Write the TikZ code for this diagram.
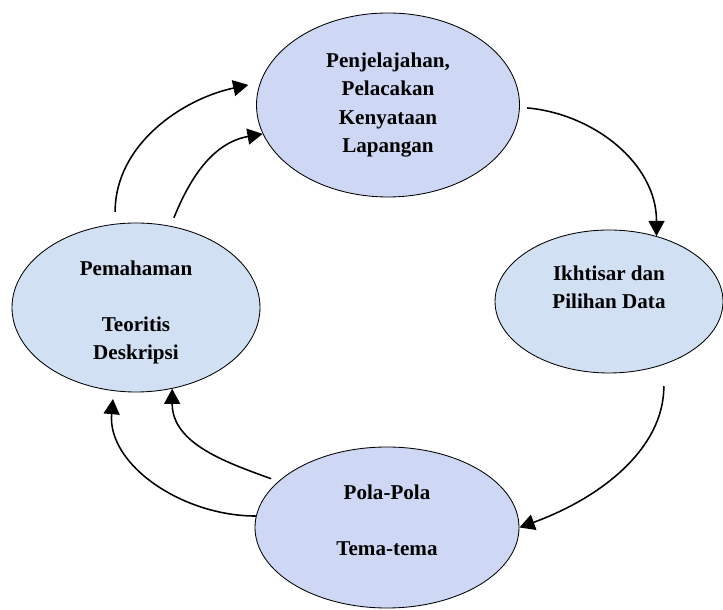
\documentclass[tikz,border=0pt]{standalone}
\usepackage{fontspec}
\setmainfont{Liberation Serif}
\usetikzlibrary{shapes.geometric}
\usetikzlibrary{arrows.meta}

\definecolor{mistblue}{RGB}{206,216,244}
\definecolor{paleblue}{RGB}{210,224,244}

\tikzset{
  cycle/.style={ellipse, draw, semithick, inner sep=0pt, align=center,
    font=\fontsize{15}{20}\selectfont\bfseries},
}

\begin{document}
\begin{tikzpicture}[>={Triangle[length=0.38cm,width=0.4cm]}, line width=1.1pt]
      \useasboundingbox (0,0) rectangle (18.075,15.25);

      \node [cycle] at (9.7, 12.625)
      [minimum width=6.575cm, minimum height=4.6cm, name=jelajah, fill=mistblue]
      {Penjelajahan,\\Pelacakan\\Kenyataan\\Lapangan};

      \node [cycle] at (15.225, 7.7125)
      [minimum width=5.7cm, minimum height=3.575cm, name=ikhtisar, fill=paleblue]
      {Ikhtisar dan\\Pilihan Data\\~};

      \node [cycle] at (9.675, 2.0625)
      [minimum width=6.6cm, minimum height=4.025cm, name=pola, fill=mistblue]
      {Pola-Pola\\[20pt]Tema-tema\\[-10pt]~};

      \node [cycle] at (3.4, 7.5625)
      [minimum width=6.2cm, minimum height=4.225cm, name=paham, fill=paleblue]
      {~\\[-3pt]Pemahaman\\[20pt]Teoritis\\Deskripsi};

      % clockwise cycle
      \draw [->, shorten <=0.18cm] (jelajah.-1) to[out=-5, in=90] (ikhtisar.54);
      \draw [->, shorten <=0.54cm] (ikhtisar.-49) to[out=-90, in=20] (pola.0);

      % back to the theory
      \draw [->, shorten <=0.19cm] (pola.157) to[out=160, in=-90] (paham.-66);
      \draw [->, shorten >=0.2cm] (pola.175) to[out=180, in=-95] (paham.-105);

      \draw [->, shorten <=0.3cm, shorten >=0.3cm] (paham.104) to[out=90, in=192] (jelajah.170);
      \draw [->, shorten <=0.22cm] (paham.67) to[out=68, in=190] (jelajah.193);
\end{tikzpicture}
\end{document}
